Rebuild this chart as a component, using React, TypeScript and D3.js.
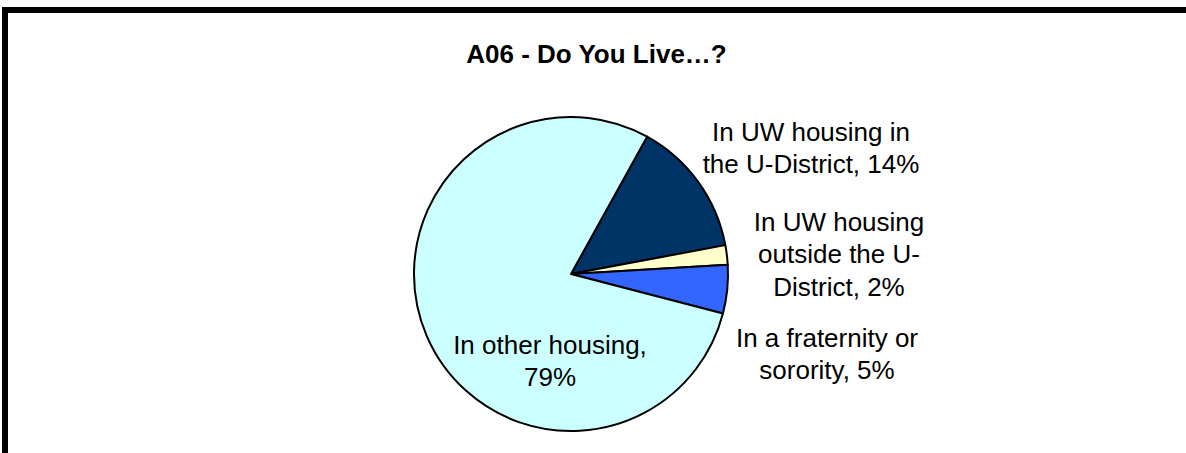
import React from "react";
import * as d3 from "d3";

const categories = [
  "In UW housing in the U-District",
  "In UW housing outside the U-District",
  "In a fraternity or sorority",
  "In other housing",
];
const values = [14, 2, 5, 79];
const labelLines = [
  ["In UW housing in", "the U-District, 14%"],
  ["In UW housing", "outside the U-", "District, 2%"],
  ["In a fraternity or", "sorority, 5%"],
  ["In other housing,", "79%"],
];
const colors = ["#003366", "#FFFFCC", "#3366FF", "#CCFFFF"];
const title = "A06 - Do You Live\u2026?";

const W = 1186;
const H = 453;
const cx = 571;
const cy = 274;
const R = 157;
const startDeg = 29;
const lineH = 32.5;
// label block centres relative to pie centre (layout)
const labelPos = [
  { dx: 240, dy: -126 },
  { dx: 268, dy: -20 },
  { dx: 256, dy: 80 },
  { dx: -21, dy: 87 },
];

export default function App() {
  const pie = d3
    .pie<number>()
    .sort(null)
    .value((d) => d)
    .startAngle((startDeg * Math.PI) / 180)
    .endAngle((startDeg * Math.PI) / 180 + 2 * Math.PI);
  const arcs = pie(values);
  const arc = d3.arc<d3.PieArcDatum<number>>().innerRadius(0).outerRadius(R);
  const font = "'Liberation Sans', Arial, Helvetica, sans-serif";

  return (
    <svg
      width={W}
      height={H}
      style={{ position: "absolute", left: 0, top: 0, background: "#fff" }}
      fontFamily={font}
    >
      <rect x={0} y={0} width={W} height={H} fill="#fff" />
      <path d={`M5,${H} V10 H${W}`} fill="none" stroke="#000" strokeWidth={6} />
      <text x={596.5} y={63} textAnchor="middle" fontSize={26} fontWeight="bold" fill="#000">
        {title}
      </text>
      <g transform={`translate(${cx},${cy})`}>
        {arcs.map((a, i) => (
          <path
            key={categories[i]}
            d={arc(a) || ""}
            fill={colors[i]}
            stroke="#000"
            strokeWidth={2}
            strokeLinejoin="round"
          />
        ))}
      </g>
      {labelLines.map((lines, i) => {
        const p = labelPos[i];
        const n = lines.length;
        const firstBaseline = cy + p.dy - ((n - 1) * lineH) / 2 + 9;
        return (
          <text
            key={categories[i]}
            x={cx + p.dx}
            y={firstBaseline}
            textAnchor="middle"
            fontSize={26}
            fill="#000"
          >
            {lines.map((l, j) => (
              <tspan key={j} x={cx + p.dx} y={firstBaseline + j * lineH}>
                {l}
              </tspan>
            ))}
          </text>
        );
      })}
    </svg>
  );
}
